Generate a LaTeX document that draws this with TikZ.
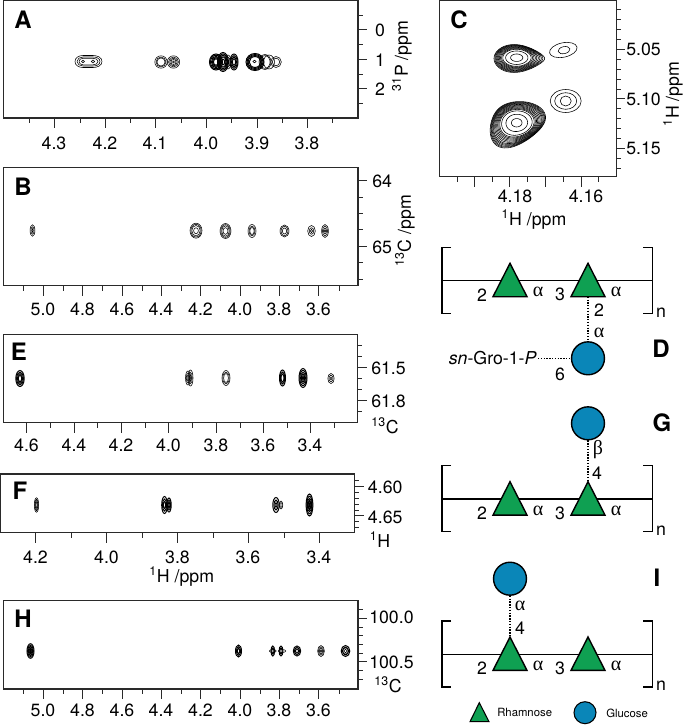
\documentclass[tikz,border=0pt]{standalone}
\usepackage{fontspec}
\setmainfont{TeX Gyre Heros}
\newfontfamily\grk{Liberation Serif}
\definecolor{framec}{HTML}{2A2A2A}
\definecolor{rhagreen}{HTML}{0FA052}
\definecolor{glcblue}{HTML}{0A86B8}
\tikzset{
  frm/.style={draw=framec,line width=0.8pt},
  tk/.style={draw=framec,line width=0.7pt},
  ct/.style={draw=black,line width=0.42pt},
  ctb/.style={draw=black,line width=0.75pt},
  ticklab/.style={font=\fontsize{13.3}{15}\selectfont,inner sep=0pt},
  panel/.style={font=\fontsize{18}{20}\selectfont\bfseries,inner sep=0pt},
  axlab/.style={font=\fontsize{13.3}{15}\selectfont,inner sep=0pt},
  num/.style={font=\fontsize{13.3}{15}\selectfont,inner sep=0pt},
  grklab/.style={font=\fontsize{15}{17}\selectfont\grk,inner sep=0pt},
  chain/.style={draw=black,line width=1.1pt},
  sugar/.style={draw=black,line width=1.05pt,fill=rhagreen,line join=miter},
  glc/.style={circle,draw=black,line width=1.05pt,fill=glcblue,inner sep=0pt,minimum size=24.7pt},
  link/.style={draw=black,line width=1.1pt,dash pattern=on 1pt off 1.1pt},
  legend/.style={font=\fontsize{8.5}{10}\selectfont,inner sep=0pt},
}
\newcommand{\plotframe}[8]{%
  \draw[frm] (#1,#3) rectangle (#2,#4);
  \foreach \q in {#5} \draw[tk] (\q,#4) -- (\q,#4+10);
  \foreach \q in {#6} \draw[tk] (\q,#4) -- (\q,#4+5);
  \foreach \q in {#7} \draw[tk] (#2,\q) -- (#2+9,\q);
  \foreach \q in {#8} \draw[tk] (#2,\q) -- (#2+4.5,\q);
}
\newcommand{\pk}[6][ct]{\foreach \s in {#6} \draw[#1] (#2,#3) ellipse [x radius={\s*#4},y radius={\s*#5}];}
\newcommand{\labs}[3]{\foreach \q/\t in {#2} \node[ticklab] (#1\t) at (\q,#3) {\t};}
\newcommand{\rlabs}[3]{\foreach \q/\t in {#3} \node[ticklab,anchor=west] (#1\t) at (#2,\q) {\t};}
\newcommand{\unit}[2]{%
  \coordinate (#1cl) at (442,#2+33.4);
  \coordinate (#1cr) at (652.3,#2+33.4);
  \draw[chain] (#1cl) -- (#1cr);
  \draw[chain] (451,#2) -- (442,#2) -- (442,#2+66) -- (451,#2+66);
  \draw[chain] (643,#2) -- (652.3,#2) -- (652.3,#2+66) -- (643,#2+66);
  \coordinate (#1ta) at (510,#2+16);
  \coordinate (#1tb) at (510,#2+49.4);
  \coordinate (#1ua) at (588,#2+16);
  \coordinate (#1ub) at (588,#2+49.4);
  \draw[sugar] (#1ta) -- (527,#2+49.4) -- (493,#2+49.4) -- cycle;
  \draw[sugar] (#1ua) -- (605,#2+49.4) -- (571,#2+49.4) -- cycle;
  \node[num] (#1l2) at (482,#2+47.5) {2};
  \node[grklab] (#1a1) at (538,#2+45) {α};
  \node[num] (#1l3) at (560,#2+47.5) {3};
  \node[grklab] (#1a2) at (616,#2+45) {α};
  \node[num] (#1n) at (661,#2+65) {n};
}
% contour rings of panel C: s = size, w = how far the ellipse has turned into the outer shape
\newcommand{\upring}[2]{%
  \pgfmathsetmacro{\w}{#2}%
  \draw[ct,shift={(516.7,57.7)}] plot[variable=\t,domain=0:360,samples=61,smooth]
   ({#1*(25.3*cos(\t)+2.6*\w)},
    {#1*(0.8*\w+15.5*sin(\t)*(1-0.5*\w*pow((1+cos(\t))/2,2)))}) -- cycle;}
\newcommand{\loring}[2]{%
  \pgfmathsetmacro{\w}{#2}%
  \draw[ct,shift={(516.7,122.7)}] plot[variable=\t,domain=0:360,samples=61,smooth]
   ({#1*(27.8*sin(\t)+\w*(0.07*cos(\t)-1.27*cos(2*\t)-0.42*sin(2*\t)-0.81*cos(3*\t)+0.25*sin(3*\t)))},
    {#1*(0.39-22.1*cos(\t)-4.8*\w*sin(\t)+\w*(0.69*cos(2*\t)+2.02*sin(2*\t)+0.17*cos(3*\t)-0.87*sin(3*\t)))}) -- cycle;}
\begin{document}
\begin{tikzpicture}[x=0.75pt,y=-0.75pt]
\useasboundingbox (0,0) rectangle (685,725);
%% Panel A
\plotframe{3.5}{358}{0.4}{118}{54,105,155,206,257,307}{29,80,130,181,231,282,332}{29.5,59,88.5}{15,44,74,103}
\labs{Ax}{54/4.3,105/4.2,155/4.1,206/4.0,257/3.9,307/3.8}{143}
\node[ticklab] (Ay0) at (380,30) {0};
\node[ticklab] (Ay1) at (380,60) {1};
\node[ticklab] (Ay2) at (380,89) {2};
\node[axlab,rotate=90] (Aax) at (402,56) {\textsuperscript{31}P /ppm};
\node[panel] (Ap) at (23,20) {A};
\draw[ct] (75,61.5) to[out=90,in=180] (83,55.5) -- (93,55.5) to[out=0,in=90] (102,61.5) to[out=-90,in=0] (93,67.5) -- (83,67.5) to[out=180,in=-90] (75,61.5);
\draw[ct] (77,61.5) to[out=90,in=180] (83,57) -- (93,57) to[out=0,in=90] (100,61.5) to[out=-90,in=0] (93,66) -- (83,66) to[out=180,in=-90] (77,61.5);
\pk{83}{61.5}{1.5}{1.3}{1}
\pk{93}{61.5}{1.7}{1.5}{1}
\draw[ct] (79,61.5) to[out=90,in=180] (83,58.3) -- (93,58.3) to[out=0,in=90] (98,61.5) to[out=-90,in=0] (93,64.8) -- (83,64.8) to[out=180,in=-90] (79,61.5);
\pk{161}{62}{6.2}{6.2}{1,.8,.65}
\pk{173.5}{62}{6.2}{6.2}{1,.8,.6,.4,.15}
\pk[ctb]{216}{62}{6.5}{8}{1,.85,.7,.55,.4}
\pk[ctb]{223}{62}{5.5}{9.5}{1,.85,.7,.55,.3}
\pk[ctb]{234}{62}{4}{8}{1,.8,.6,.4}
\pk{228}{62}{3}{7}{1,.7}
\pk[ctb]{255}{62}{9}{8.5}{1,.88,.76,.64}
\pk{254.5}{61.5}{1.6}{1.3}{1}
\pk{265}{62}{6}{7.5}{1,.85}
\pk{269}{62}{5.5}{7}{1}
\pk{276}{62}{5.3}{5.5}{1,.7}
%% Panel B
\plotframe{3.5}{358}{167.5}{285.5}{43,82.5,122,161,200.5,240,279,318.5}{23,63,102,142,181,220,260,299,339}{180,246}{197,213,229.5,262.5,279}
\labs{Bx}{43/5.0,82.5/4.8,122/4.6,161/4.4,200.5/4.2,240/4.0,279/3.8,318.5/3.6}{309}
\rlabs{By}{372}{181/64,247/65}
\node[axlab,rotate=90] (Bax) at (405,231) {\textsuperscript{13}C /ppm};
\node[panel] (Bp) at (23,187) {B};
\pk{32.5}{230.5}{2.4}{5.8}{1,.65,.3}
\pk{196}{230.7}{6}{7.5}{1,.85,.7,.4}
\pk{225.5}{231}{5.5}{7.5}{1,.85,.7,.45}
\pk{252}{231}{4}{6.5}{1,.75,.55}
\pk{284.5}{231}{4.5}{6}{1,.8,.5}
\pk{311.5}{231}{3.8}{5.5}{1,.6,.3}
\pk{325}{231}{3.4}{6.5}{1,.75,.45,.2}
%% Panel C
\plotframe{439.3}{616.3}{0.4}{176.7}{474,509,545,581}{457,492,527,563,598}{49.3,98.7,148}{9.9,19.7,29.6,39.5,59,69,79,89,108.5,118,128,138,158,168}
\labs{Cx}{515/4.18,586/4.16}{196}
\rlabs{Cy}{626}{49.5/5.05,99/5.10,148.5/5.15}
\node[axlab] (Cxl) at (534,220) {\textsuperscript{1}H /ppm};
\node[axlab,rotate=90] (Cyl) at (673,94) {\textsuperscript{1}H /ppm};
\node[panel] (Cp) at (459,20) {C};
\foreach \s in {.24,.44,.56,.61,.66,.71,.76,.81,.86,.905,.95,1} {\upring{\s}{\s*\s*\s}}
\foreach \s in {.19,.39,.55,.62,.66,.70,.74,.78,.82,.86,.89,.92,.95,.975,1} {\loring{\s}{\s*\s}}
\draw[ct,rotate around={12:(563.3,50)}] (563.3,50) ellipse [x radius=14,y radius=7.2];
\draw[ct,rotate around={12:(563.3,50)}] (564,50.3) ellipse [x radius=6,y radius=3.5];
\pk{565.7}{101}{15.5}{11.5}{1}
\pk{565.7}{101}{11}{8.3}{1}
\pk{565.7}{101}{5.5}{5}{1}
%% Panel E
\plotframe{3.5}{357.5}{334.5}{422.5}{26.5,74,121,168.5,216,263,310}{50,97,145,192,240,287,334}{367.5,400}{345,356,378.5,389.5,411}
\labs{Ex}{26.5/4.6,74/4.4,121/4.2,168.5/4.0,216/3.8,263/3.6,310/3.4}{445}
\rlabs{Ey}{371}{368/61.5,401/61.8}
\node[axlab] (Eax) at (385,426) {\textsuperscript{13}C};
\node[panel] (Ep) at (19,352) {E};
\pk[ctb]{20}{378.5}{4.2}{8}{1,.8,.6,.4}
\pk{188}{378}{2.5}{7}{1,.7,.4}
\pk{190.5}{378}{2.5}{8}{1,.7,.4}
\pk{226}{378}{4}{7.5}{1,.8,.6}
\pk[ctb]{282.5}{378}{3}{8}{1,.75,.5}
\pk[ctb]{303}{378}{4}{9.5}{1,.8,.6,.4,.2}
\pk{331}{378.5}{3.2}{5}{1,.65,.3}
%% Panel F
\plotframe{0.6}{354.5}{474}{532.5}{35.5,106.5,177.5,248,319}{71,142,213,284}{486.7,515.7}{480.9,492.5,498.3,504,510,521.5,527.3}
\labs{Fx}{35.5/4.2,106.5/4.0,177.5/3.8,248/3.6,319/3.4}{557}
\rlabs{Fy}{367.7}{487/4.60,517/4.65}
\node[axlab] (Fa1) at (380,540) {\textsuperscript{1}H};
\node[axlab] (Fa2) at (181.7,577) {\textsuperscript{1}H /ppm};
\node[panel] (Fp) at (20,491) {F};
\pk{36.5}{505}{2.2}{7.2}{1,.8,.6,.35}
\pk[ctb]{164.5}{505}{2.8}{8.5}{1,.7,.4}
\pk[ctb]{169}{505}{2.2}{7}{1,.7,.4}
\pk[ctb]{276}{505}{3.2}{7.5}{1,.65,.3}
\pk{281}{505}{1.8}{4}{1,.6}
\pk[ctb]{309.5}{505}{3.4}{11}{1,.8,.6,.4,.2}
%% Panel H
\plotframe{3.5}{358}{600.7}{689}{43,82.5,122,161,200.5,240,279,318.5}{23,63,102,142,181,220,260,299,339}{618.3,661.7}{609.6,627,635.7,644.3,653,670.4,679}
\labs{Hx}{43/5.0,82.5/4.8,122/4.6,161/4.4,200.5/4.2,240/4.0,279/3.8,318.5/3.6}{710}
\rlabs{Hy}{369}{617/100.0,662/100.5}
\node[axlab] (Hax) at (388,685) {\textsuperscript{13}C};
\node[panel] (Hp) at (23,619) {H};
\pk[ctb]{30.5}{651}{3.5}{7.3}{1,.8,.6,.4,.2}
\pk[ctb]{238.5}{651}{3}{6}{1,.7,.4}
\pk[ctb]{272.8}{651}{1.8}{5}{1,.6}
\pk{272.8}{651}{3.4}{1.5}{1}
\pk[ctb]{281}{651}{1.9}{5}{1,.6}
\pk{282}{651}{3.8}{1.5}{1}
\pk[ctb]{297}{651}{3.7}{5}{1,.7,.4}
\pk{321}{651}{3.4}{5.5}{1,.75,.5,.25}
\pk[ctb]{345.5}{651}{4.3}{5.5}{1,.7}
\pk{345.5}{651}{2.8}{3.2}{1,.6}
%% Structure D
\unit{d}{247.3}
\node[glc] (dc) at (588,358.3) {};
\coordinate (dgro) at (538,358.3);
\draw[link] (dub) -- (dc);
\draw[link] (dgro) -- (dc);
\node[num] (dl2) at (599,310) {2};
\node[grklab] (dal) at (599,333) {α};
\node[num,anchor=east] (dsn) at (537,358) {\textit{sn}-Gro-1-\textit{P}};
\node[num] (dl6) at (560,374) {6};
\node[panel] (Dp) at (661,349) {D};
%% Structure G
\unit{g}{465.7}
\node[glc] (gc) at (588,423.3) {};
\draw[link] (gc) -- (gua);
\node[grklab] (gbe) at (598,450) {β};
\node[num] (gl4) at (597,473) {4};
\node[panel] (Gp) at (662,423) {G};
%% Structure I
\unit{i}{621}
\node[glc] (ic) at (510,578.7) {};
\draw[link] (ic) -- (ita);
\node[grklab] (ial) at (520,606) {α};
\node[num] (il4) at (520,628) {4};
\node[panel] (Ip) at (657,578) {I};
%% Legend
\coordinate (ltri) at (479.3,702.7);
\draw[sugar,line width=0.8pt] (ltri) -- (489,721.7) -- (470,721.7) -- cycle;
\node[legend,anchor=west] (lrha) at (497,712) {Rhamnose};
\node[glc,minimum size=16.5pt,line width=0.8pt] (lglc) at (585,712.7) {};
\node[legend,anchor=west] (lglu) at (606,713) {Glucose};
\end{tikzpicture}
\end{document}
